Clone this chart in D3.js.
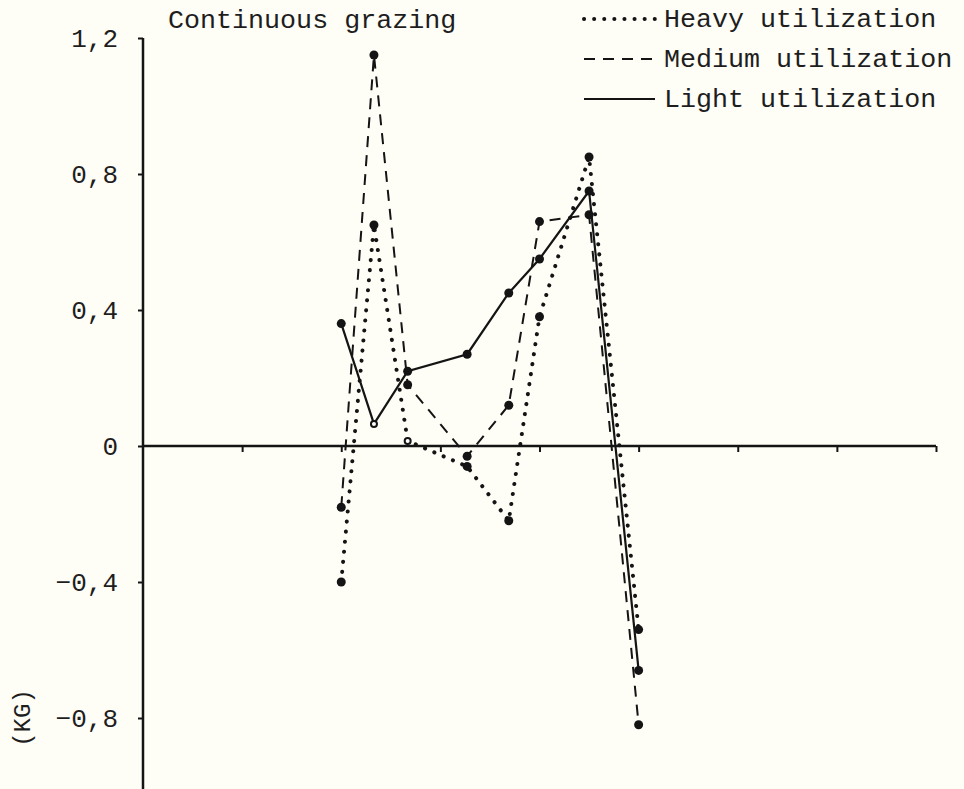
<!DOCTYPE html>
<html>
<head>
<meta charset="utf-8">
<script src="https://cdn.jsdelivr.net/npm/d3@7/dist/d3.min.js"></script>
<style>
  html, body { margin: 0; padding: 0; background: #fefdf6; }
  svg { display: block; }
  text { font-family: "Liberation Mono", "DejaVu Sans Mono", monospace; fill: #1e1e1e; }
</style>
</head>
<body>
<script>
// Sampling positions along the horizontal axis (in tick units)
const samplePos = [2.0, 2.33, 2.67, 3.27, 3.69, 4.0, 4.5, 5.0];

// Weight change (kg) per utilization level
const heavyUtil  = [-0.40, 0.65, 0.015, -0.06, -0.22, 0.38, 0.85, -0.54];
const mediumUtil = [-0.18, 1.15, 0.18, -0.03, 0.12, 0.66, 0.68, -0.82];
const lightUtil  = [0.36, 0.065, 0.22, 0.27, 0.45, 0.55, 0.75, -0.66];

const seriesNames = ["Heavy utilization", "Medium utilization", "Light utilization"];
const yTicks = [-0.8, -0.4, 0, 0.4, 0.8, 1.2];
const xTicks = [1, 2, 3, 4, 5, 6, 7, 8];
const chartTitle = "Continuous grazing";
const yLabel = "(KG)";

const W = 964, H = 789;
const svg = d3.select("body").append("svg").attr("width", W).attr("height", H);

const x = d3.scaleLinear().domain([0, 8]).range([143, 936]);
const y = d3.scaleLinear().domain([-0.8, 1.2]).range([718, 38]);

const ink = "#141414";

// Y axis
const yAxis = d3.axisLeft(y).tickValues(yTicks).tickSize(5).tickPadding(20)
  .tickFormat(d => d === 0 ? "0" : d3.format(".1f")(d).replace(".", ","));
const gy = svg.append("g").attr("transform", `translate(${x(0)},0)`).call(yAxis);
gy.select(".domain").remove();
gy.selectAll(".tick line").attr("stroke", ink).attr("stroke-width", 2);
gy.selectAll(".tick text").style("font-size", "26px").attr("fill", "#222");
svg.append("line").attr("x1", x(0)).attr("x2", x(0)).attr("y1", y(1.2)).attr("y2", H)
  .attr("stroke", ink).attr("stroke-width", 2.5);

// X axis along zero
const xAxis = d3.axisBottom(x).tickValues(xTicks).tickSize(6).tickFormat("");
const gx = svg.append("g").attr("transform", `translate(0,${y(0)})`).call(xAxis);
gx.select(".domain").remove();
gx.selectAll(".tick line").attr("stroke", ink).attr("stroke-width", 2);
svg.append("line").attr("x1", x(0)).attr("x2", x(8)).attr("y1", y(0)).attr("y2", y(0))
  .attr("stroke", ink).attr("stroke-width", 2.5);

// Series styles
const styles = [
  { dash: "0.1 10", width: 4, cap: "round" },
  { dash: "11 8", width: 2, cap: "butt" },
  { dash: null, width: 2.2, cap: "butt" }
];
const series = [heavyUtil, mediumUtil, lightUtil];

const line = d3.line().x((d, i) => x(samplePos[i])).y(d => y(d));

series.forEach((vals, si) => {
  const st = styles[si];
  svg.append("path").datum(vals)
    .attr("d", line)
    .attr("fill", "none")
    .attr("stroke", ink)
    .attr("stroke-width", st.width)
    .attr("stroke-linecap", st.cap)
    .attr("stroke-dasharray", st.dash);
});

// Markers (a few are drawn as small open rings)
const hollow = { "0-2": true, "2-1": true };
series.forEach((vals, si) => {
  svg.append("g").selectAll("circle").data(vals).join("circle")
    .attr("cx", (d, i) => x(samplePos[i]))
    .attr("cy", d => y(d))
    .attr("r", (d, i) => hollow[si + "-" + i] ? 3 : 4.5)
    .attr("fill", (d, i) => hollow[si + "-" + i] ? "#fff" : ink)
    .attr("stroke", ink)
    .attr("stroke-width", (d, i) => hollow[si + "-" + i] ? 2 : 0);
});

// Title
svg.append("text").attr("x", 168).attr("y", 28).style("font-size", "26.7px").text(chartTitle);

// Legend
const legendY = [19, 59, 99];
seriesNames.forEach((name, i) => {
  const st = styles[i];
  svg.append("line")
    .attr("x1", 584).attr("x2", i === 2 ? 655 : 658)
    .attr("y1", legendY[i]).attr("y2", legendY[i])
    .attr("stroke", ink).attr("stroke-width", st.width)
    .attr("stroke-linecap", st.cap).attr("stroke-dasharray", st.dash);
  svg.append("text").attr("x", 664).attr("y", legendY[i] + 8)
    .style("font-size", "26.7px").text(name);
});

// Y label (rotated)
svg.append("text")
  .attr("transform", `translate(30,718) rotate(-90)`)
  .attr("text-anchor", "middle")
  .style("font-size", "24px")
  .text(yLabel);
</script>
</body>
</html>
